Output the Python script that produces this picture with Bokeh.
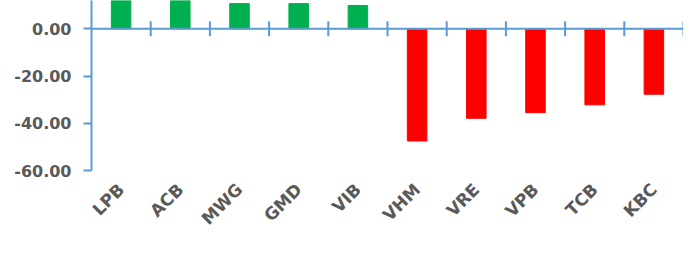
from math import pi
from bokeh.plotting import figure
from bokeh.models import ColumnDataSource, Range1d, FactorRange, Span, NumeralTickFormatter, FixedTicker
from bokeh.transform import dodge
from bokeh.embed import file_html
from bokeh.resources import INLINE

stocks = ["LPB", "ACB", "MWG", "GMD", "VIB", "VHM", "VRE", "VPB", "TCB", "KBC"]
values = [15.0, 14.0, 10.7, 10.7, 9.9, -47.5, -37.9, -35.5, -32.2, -27.7]
y_ticks = [0, -20, -40, -60]

colors = ["#00B050" if v >= 0 else "#FF0000" for v in values]
src = ColumnDataSource(dict(cat=stocks, val=values, color=colors))

AXIS = "#5B9BD5"
TEXT = "#595959"
FONT = "DejaVu Sans"

p = figure(x_range=FactorRange(*stocks), y_range=Range1d(-60, 12),
           width=683, height=238, output_backend="svg", toolbar_location=None,
           min_border_left=91, min_border_right=0, min_border_top=0, min_border_bottom=64)
p.outline_line_color = None
p.xgrid.visible = False
p.ygrid.visible = False
p.background_fill_color = "white"
p.border_fill_color = "white"

p.vbar(x="cat", top="val", bottom=0, width=0.33, color="color", source=src)

zero = Span(location=0, dimension="width", line_color=AXIS, line_width=2)
p.add_layout(zero)
p.scatter(x=dodge("cat", 0.5, range=p.x_range), y=0, marker="dash", angle=pi / 2,
          size=15, line_color=AXIS, line_width=2, source=src)

yax = p.yaxis[0]
yax.ticker = FixedTicker(ticks=y_ticks)
yax.formatter = NumeralTickFormatter(format="0.00")
yax.axis_line_color = AXIS
yax.axis_line_width = 2
yax.major_tick_line_color = AXIS
yax.major_tick_line_width = 2
yax.major_tick_out = 8
yax.major_tick_in = 0
yax.minor_tick_line_color = None
yax.major_label_standoff = 12
yax.major_label_text_font = FONT
yax.major_label_text_font_style = "bold"
yax.major_label_text_font_size = "16px"
yax.major_label_text_color = TEXT

xax = p.xaxis[0]
xax.axis_line_color = None
xax.major_tick_line_color = None
xax.major_label_orientation = pi / 4
xax.major_label_standoff = 10
xax.major_label_text_font = FONT
xax.major_label_text_font_style = "bold"
xax.major_label_text_font_size = "17px"
xax.major_label_text_color = TEXT

open("out.html", "w").write(file_html(p, INLINE))
